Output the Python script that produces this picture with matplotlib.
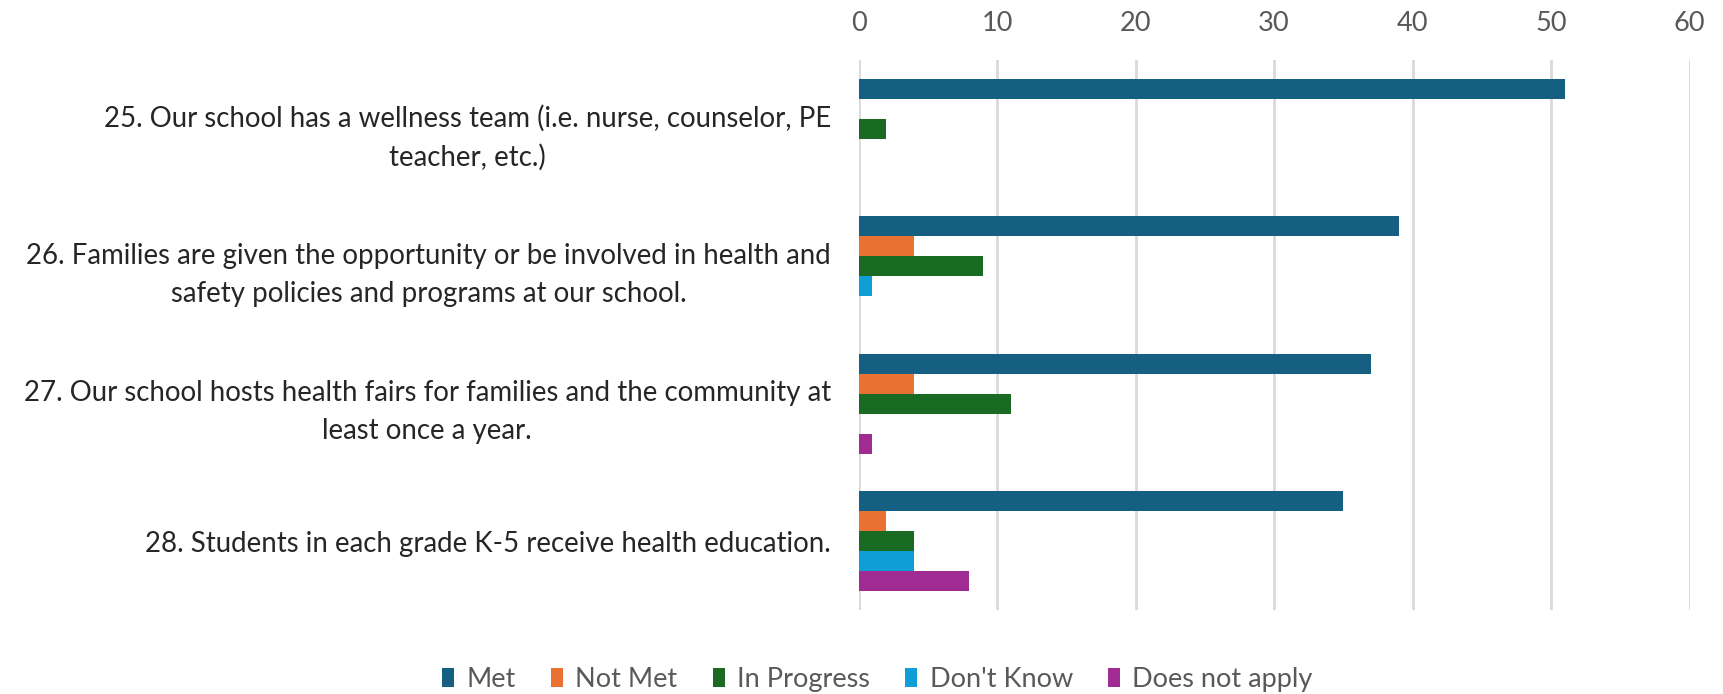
import numpy as np
import matplotlib.pyplot as plt

questions = [
    "25. Our school has a wellness team (i.e. nurse, counselor, PE\nteacher, etc.)",
    "26. Families are given the opportunity or be involved in health and\nsafety policies and programs at our school.",
    "27. Our school hosts health fairs for families and the community at\nleast once a year.",
    "28. Students in each grade K-5 receive health education.",
]
series_names = ["Met", "Not Met", "In Progress", "Don't Know", "Does not apply"]
met = [51, 39, 37, 35]
not_met = [0, 4, 4, 2]
in_progress = [2, 9, 11, 4]
dont_know = [0, 1, 0, 4]
does_not_apply = [0, 0, 1, 8]
colors = ["#156082", "#E97132", "#196B24", "#0F9ED5", "#A02B93"]

plt.rcParams['font.family'] = ['Lato', 'DejaVu Sans']

fig = plt.figure(figsize=(17.24, 6.94), dpi=100)
ax = fig.add_axes([0.498, 0.121, 0.482, 0.7925])

all_series = [met, not_met, in_progress, dont_know, does_not_apply]
y = np.arange(len(questions))
h = 0.145
for k, (vals, name, col) in enumerate(zip(all_series, series_names, colors)):
    ax.barh(y + (k - 2) * h, vals, height=h, color=col, label=name, zorder=3)

ax.set_ylim(len(questions) - 0.5, -0.5)
ax.set_xlim(0, 60)
ax.set_xticks(np.arange(0, 61, 10))
ax.xaxis.tick_top()
ax.tick_params(axis='x', length=0, pad=17, labelsize=19.5, labelcolor='#595959')
ax.set_yticks(y)
ax.set_yticklabels(questions, fontsize=19.9, color='#262626', multialignment='center',
                   linespacing=1.58)
ax.tick_params(axis='y', length=0, pad=20)
ax.grid(axis='x', color='#d9d9d9', linewidth=2, zorder=0)
for s in ax.spines.values():
    s.set_visible(False)

fig.legend(loc='center', bbox_to_anchor=(0.509, 0.021), ncol=5, frameon=False,
           fontsize=19.5, labelcolor='#595959', handlelength=0.45, handleheight=0.75,
           handletextpad=0.45, columnspacing=1.3)

fig.savefig('out.png', dpi=100)
